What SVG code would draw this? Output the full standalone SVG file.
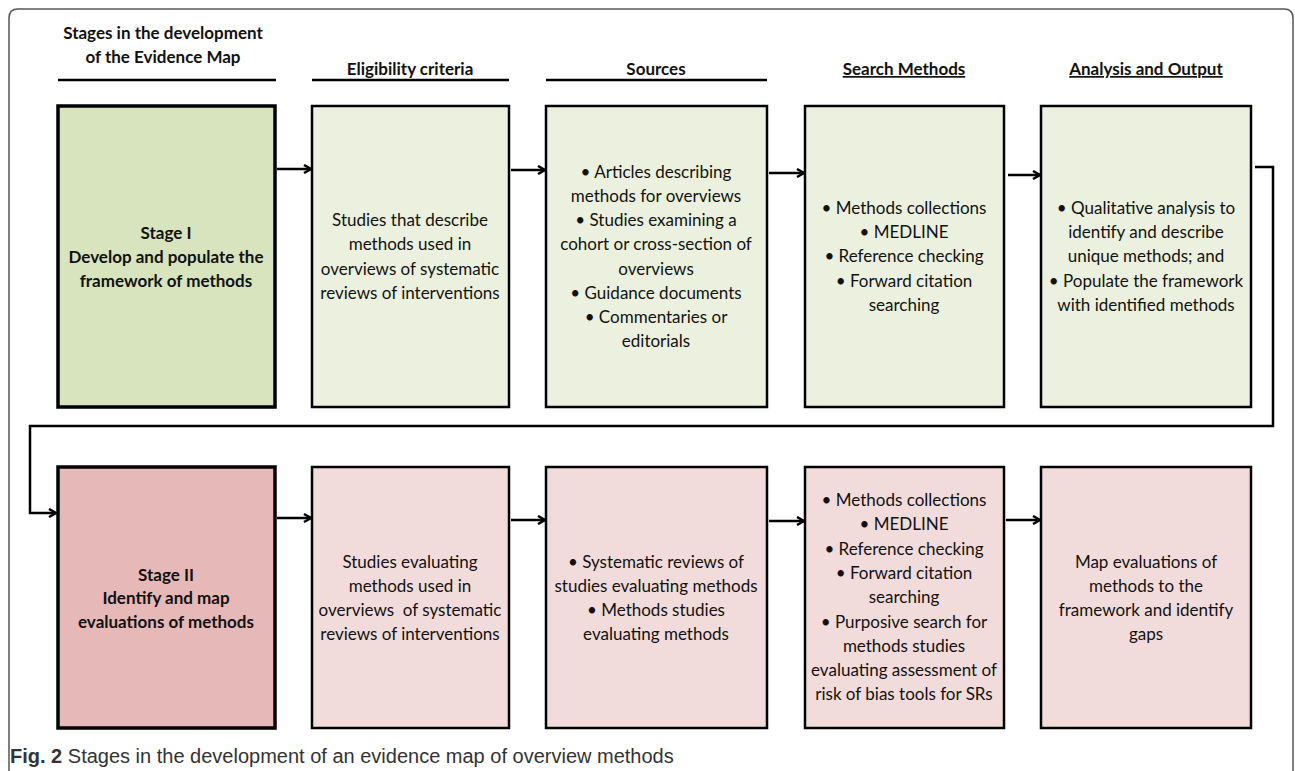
<svg xmlns="http://www.w3.org/2000/svg" width="1295" height="771" viewBox="0 0 1295 771">
<defs>
<marker id="ah" markerWidth="10" markerHeight="10" refX="8" refY="5" orient="auto" markerUnits="userSpaceOnUse">
<path d="M1,1 L8,5 L1,9" fill="none" stroke="#000" stroke-width="2.5"/>
</marker>
<style>
text{font-family:Lato,"Liberation Sans",sans-serif;font-size:17px;fill:#111;text-anchor:middle}
.b{font-weight:bold}
.s1{fill:#d7e4bd;stroke:#000;stroke-width:3.5}
.g{fill:#ebf1de;stroke:#000;stroke-width:2.5}
.s2{fill:#e6b9b8;stroke:#000;stroke-width:3.5}
.p{fill:#f2dcdb;stroke:#000;stroke-width:2.5}
.hl{stroke:#000;stroke-width:2.5}
.c{fill:none;stroke:#000;stroke-width:2.5;marker-end:url(#ah)}
.cap{text-anchor:start;font-family:"Liberation Sans",sans-serif;font-size:20px;fill:#333}
</style>
</defs>
<rect width="1295" height="771" fill="#fff"/>
<path d="M9,771 V18 Q9,9 18,9 H1284 Q1293,9 1293,18 V771" fill="none" stroke="#555" stroke-width="1.5"/>

<g id="headers">
<text class="b" x="163" y="39">Stages in the development</text>
<text class="b" x="163" y="63">of the Evidence Map</text>
<line class="hl" x1="58" y1="80" x2="276" y2="80"/>
<text class="b" x="410" y="75">Eligibility criteria</text>
<line class="hl" x1="312" y1="80" x2="509" y2="80"/>
<text class="b" x="656" y="75">Sources</text>
<line class="hl" x1="546" y1="80" x2="767" y2="80"/>
<text class="b" x="904" y="75" text-decoration="underline">Search Methods</text>
<text class="b" x="1146" y="75" text-decoration="underline">Analysis and Output</text>
</g>

<g id="stage1">
<rect class="s1" x="58" y="106" width="217" height="301"/>
<text class="b" x="166" y="239">Stage I</text>
<text class="b" x="166" y="263">Develop and populate the</text>
<text class="b" x="166" y="287">framework of methods</text>
</g>
<g id="elig1">
<rect class="g" x="312" y="106" width="197" height="301"/>
<text x="410" y="226">Studies that describe</text>
<text x="410" y="250">methods used in</text>
<text x="410" y="275">overviews of systematic</text>
<text x="410" y="299">reviews of interventions</text>
</g>
<g id="src1">
<rect class="g" x="546" y="106" width="221" height="301"/>
<text x="656" y="178">• Articles describing</text>
<text x="656" y="202">methods for overviews</text>
<text x="656" y="226">• Studies examining a</text>
<text x="656" y="250">cohort or cross-section of</text>
<text x="656" y="275">overviews</text>
<text x="656" y="299">• Guidance documents</text>
<text x="656" y="323">• Commentaries or</text>
<text x="656" y="347">editorials</text>
</g>
<g id="search1">
<rect class="g" x="805" y="106" width="199" height="301"/>
<text x="904" y="214">• Methods collections</text>
<text x="904" y="238">• MEDLINE</text>
<text x="904" y="262">• Reference checking</text>
<text x="904" y="287">• Forward citation</text>
<text x="904" y="311">searching</text>
</g>
<g id="analysis1">
<rect class="g" x="1041" y="106" width="210" height="301"/>
<text x="1146" y="214">• Qualitative analysis to</text>
<text x="1146" y="238">identify and describe</text>
<text x="1146" y="262">unique methods; and</text>
<text x="1146" y="287">• Populate the framework</text>
<text x="1146" y="311">with identified methods</text>
</g>

<g id="stage2">
<rect class="s2" x="58" y="467" width="217" height="261"/>
<text class="b" x="166" y="581">Stage II</text>
<text class="b" x="166" y="604">Identify and map</text>
<text class="b" x="166" y="628">evaluations of methods</text>
</g>
<g id="elig2">
<rect class="p" x="312" y="467" width="197" height="261"/>
<text x="410" y="568">Studies evaluating</text>
<text x="410" y="592">methods used in</text>
<text x="410" y="616" xml:space="preserve">overviews  of systematic</text>
<text x="410" y="640">reviews of interventions</text>
</g>
<g id="src2">
<rect class="p" x="546" y="467" width="221" height="261"/>
<text x="656" y="568">• Systematic reviews of</text>
<text x="656" y="592">studies evaluating methods</text>
<text x="656" y="616">• Methods studies</text>
<text x="656" y="640">evaluating methods</text>
</g>
<g id="search2">
<rect class="p" x="805" y="467" width="199" height="261"/>
<text x="904" y="506">• Methods collections</text>
<text x="904" y="530">• MEDLINE</text>
<text x="904" y="555">• Reference checking</text>
<text x="904" y="579">• Forward citation</text>
<text x="904" y="603">searching</text>
<text x="904" y="628">• Purposive search for</text>
<text x="904" y="652">methods studies</text>
<text x="904" y="676">evaluating assessment of</text>
<text x="904" y="700">risk of bias tools for SRs</text>
</g>
<g id="map2">
<rect class="p" x="1041" y="467" width="210" height="261"/>
<text x="1146" y="568">Map evaluations of</text>
<text x="1146" y="592">methods to the</text>
<text x="1146" y="616">framework and identify</text>
<text x="1146" y="640">gaps</text>
</g>

<g id="connectors">
<path class="c" d="M277,169 H311"/>
<path class="c" d="M511,170 H545"/>
<path class="c" d="M769,173 H804"/>
<path class="c" d="M1008,175 H1040"/>
<path class="c" d="M277,518 H311"/>
<path class="c" d="M511,520 H545"/>
<path class="c" d="M769,521 H804"/>
<path class="c" d="M1006,520 H1040"/>
<path class="c" d="M1255,167 H1273 V426 H30 V513 H56"/>
</g>

<g id="caption">
<text class="cap" x="10" y="763"><tspan font-weight="bold">Fig. 2</tspan> Stages in the development of an evidence map of overview methods</text>
</g>
</svg>
